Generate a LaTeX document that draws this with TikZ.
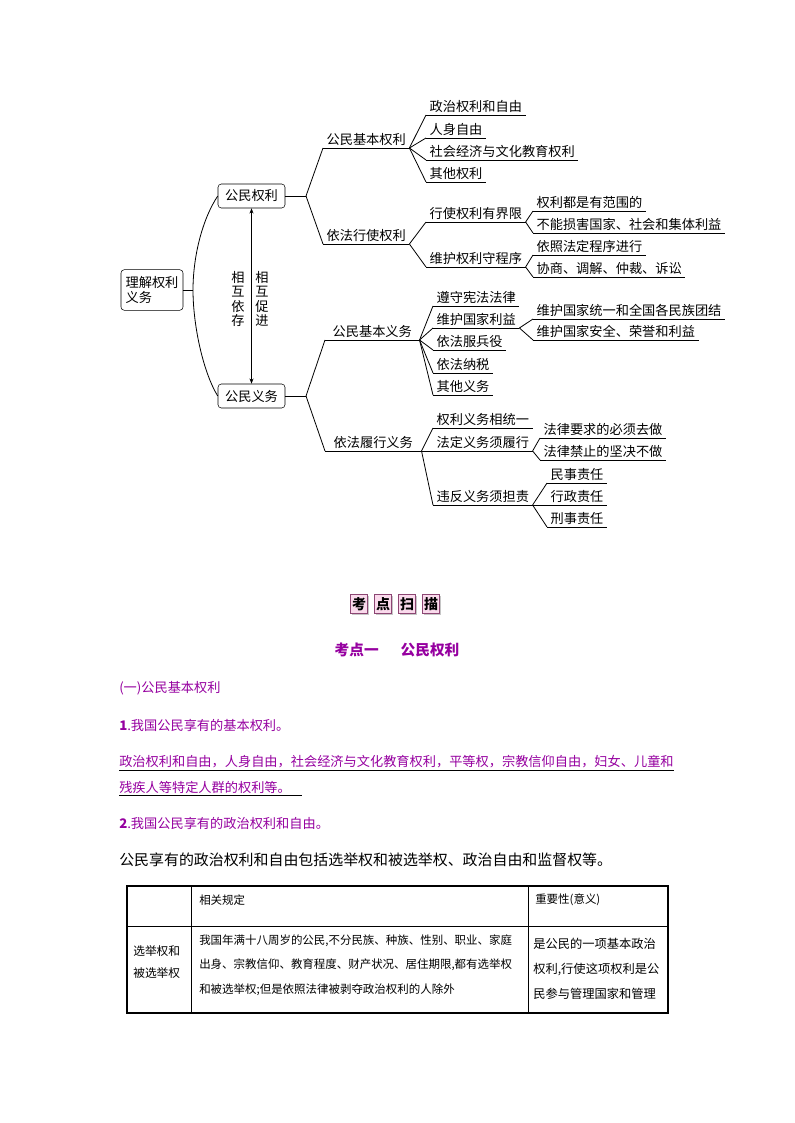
\documentclass[tikz,border=0pt]{standalone}
\usepackage{fontspec}
\setmainfont{Noto Sans CJK SC}
\usetikzlibrary{arrows.meta, positioning, shadows}

\definecolor{kdpurple}{RGB}{150,0,160}
\definecolor{kdpink}{RGB}{250,218,236}
\definecolor{kdedge}{RGB}{140,70,115}

\begin{document}
\begin{tikzpicture}[
    x=0.75pt, y=-0.75pt,
    box/.style={draw, rounded corners=2.5pt, inner sep=0pt, font=\fontsize{9.9}{11.2}\selectfont},
    item/.style={anchor=south west, inner xsep=2.5pt, inner ysep=1.6pt, font=\fontsize{9.9}{12}\selectfont},
    link/.style={line width=0.6pt},
    arrow/.style={{Stealth[length=4pt,width=3pt]}-{Stealth[length=4pt,width=3pt]}, line width=0.6pt},
    vlabel/.style={align=center, inner sep=0pt, font=\fontsize{9.9}{10.9}\selectfont},
    tag/.style={draw=kdedge, fill=kdpink, minimum width=12.5pt, minimum height=14pt, inner sep=0pt,
        drop shadow={shadow xshift=1pt, shadow yshift=-1pt, fill=gray!45, opacity=1},
        font=\fontsize{10.5}{11}\selectfont\bfseries},
    body/.style={anchor=west, inner xsep=0pt, inner ysep=1.6pt, text=kdpurple, font=\fontsize{9.9}{12}\selectfont},
    cell/.style={anchor=west, inner sep=0pt, align=left, font=\fontsize{8.6}{18.4}\selectfont}
]
\fill[white] (0,0) rectangle (794,1123);
\useasboundingbox (0,0) rectangle (794,1123);

% mind map: boxes
\node[box, align=left, minimum width=46.5pt, minimum height=30.5pt] (root) at (152,290) {理解权利\\义务};
\node[box, minimum width=50.25pt, minimum height=18pt] (qlbox) at (251.5,196) {公民权利};
\node[box, minimum width=50.25pt, minimum height=18pt] (ywbox) at (251.5,396) {公民义务};

\coordinate (arcmid) at (193,290);
\draw[link] (root.east) -- (arcmid);
\draw[link] (qlbox.west) .. controls (203,218) and (193,255) .. (arcmid)
    .. controls (193,325) and (203,372) .. (ywbox.west);

\draw[arrow] (qlbox.south) -- (ywbox.north);
\node[vlabel] (xhyc) at (238,299) {相\\互\\依\\存};
\node[vlabel] (xhcj) at (262,299) {相\\互\\促\\进};

% rights
\node[item] (jbql) at (323,148) {公民基本权利};
\node[item] (yfxs) at (323,244) {依法行使权利};
\coordinate (qlj) at (306,196);
\draw[link] (qlbox.east) -- (qlj);
\foreach \n in {jbql, yfxs} \draw[link] (qlj) -- (\n.south west);

\node[item] (zzql) at (426,115) {政治权利和自由};
\node[item] (rszy) at (426,138) {人身自由};
\node[item] (shjj) at (426,160) {社会经济与文化教育权利};
\node[item] (qtql) at (426,182) {其他权利};
\foreach \n in {zzql, rszy, shjj, qtql} \draw[link] (jbql.south east) -- (\n.south west);

\node[item] (xsjx) at (426,222) {行使权利有界限};
\node[item] (whcx) at (426,267) {维护权利守程序};
\foreach \n in {xsjx, whcx} \draw[link] (yfxs.south east) -- (\n.south west);

\node[item] (fwd) at (533,211) {权利都是有范围的};
\node[item] (bnsh) at (533,233) {不能损害国家、社会和集体利益};
\foreach \n in {fwd, bnsh} \draw[link] (xsjx.south east) -- (\n.south west);

\node[item] (yzcx) at (533,255) {依照法定程序进行};
\node[item] (xstz) at (533,277) {协商、调解、仲裁、诉讼};
\foreach \n in {yzcx, xstz} \draw[link] (whcx.south east) -- (\n.south west);

% duties
\node[item, minimum width=70.5pt] (jbyw) at (325,340) {公民基本义务};
\node[item, minimum width=72pt] (yfly) at (325,451) {依法履行义务};
\coordinate (ywj) at (306,396);
\draw[link] (ywbox.east) -- (ywj);
\foreach \n in {jbyw, yfly} \draw[link] (ywj) -- (\n.south west);

\node[item] (zsxf) at (433,306) {遵守宪法法律};
\node[item] (whgj) at (433,328) {维护国家利益};
\node[item] (fby) at (433,350) {依法服兵役};
\node[item] (ns) at (433,373) {依法纳税};
\node[item] (qtyw) at (433,395) {其他义务};
\foreach \n in {zsxf, whgj, fby, ns, qtyw} \draw[link] (jbyw.south east) -- (\n.south west);

\node[item] (tyjt) at (533,319) {维护国家统一和全国各民族团结};
\node[item] (aqry) at (533,340) {维护国家安全、荣誉和利益};
\foreach \n in {tyjt, aqry} \draw[link] (whgj.south east) -- (\n.south west);

\node[item] (qlyw) at (433,428) {权利义务相统一};
\node[item] (fdyw) at (433,451) {法定义务须履行};
\node[item] (wfzr) at (433,505) {违反义务须担责};
\foreach \n in {qlyw, fdyw, wfzr} \draw[link] (yfly.south east) -- (\n.south west);

\node[item] (bxqz) at (540,438) {法律要求的必须去做};
\node[item] (jjbz) at (540,460) {法律禁止的坚决不做};
\foreach \n in {bxqz, jjbz} \draw[link] (fdyw.south east) -- (\n.south west);

\node[item] (msz) at (547,483) {民事责任};
\node[item] (xzz) at (547,505) {行政责任};
\node[item] (xsz) at (547,527) {刑事责任};
\foreach \n in {msz, xzz, xsz} \draw[link] (wfzr.south east) -- (\n.south west);

\foreach \n in {jbql, yfxs, zzql, rszy, shjj, qtql, xsjx, whcx, fwd, bnsh, yzcx, xstz,
    jbyw, yfly, zsxf, whgj, fby, ns, qtyw, tyjt, aqry, qlyw, fdyw, wfzr, bxqz, jjbz, msz, xzz, xsz}
    \draw[link] (\n.south west) -- (\n.south east);

% scan tags and heading
\foreach \t [count=\i] in {考,点,扫,描}
    \node[tag] (tag\i) at (335+24*\i,604) {\t};
\node[text=kdpurple, font=\fontsize{11}{13}\selectfont\bfseries] (kd1) at (397,650) {考点一\hspace{1.5em}公民权利};

\node[body] (sub1) at (119,688) {(一)公民基本权利};
\node[body] (pt1) at (119,725) {\textbf{1}.我国公民享有的基本权利。};
\node[body] (ul1) at (119,762) {政治权利和自由，人身自由，社会经济与文化教育权利，平等权，宗教信仰自由，妇女、儿童和};
\node[body] (ul2) at (119,787) {残疾人等特定人群的权利等。\hspace*{0.8em}};
\foreach \n in {ul1, ul2} \draw[line width=0.6pt] (\n.south west) -- (\n.south east);
\node[body] (pt2) at (119,823) {\textbf{2}.我国公民享有的政治权利和自由。};
\node[anchor=west, inner sep=0pt, font=\fontsize{11.2}{13}\selectfont] (intro) at (119,860)
    {公民享有的政治权利和自由包括选举权和被选举权、政治自由和监督权等。};

% table
\draw[line width=1.6pt] (127,886) rectangle (668,1013);
\draw[line width=0.6pt] (191,886) -- (191,1013) (528,886) -- (528,1013) (127,926) -- (668,926);
\node[cell] (h1) at (199,900) {相关规定};
\node[cell] (h2) at (535,900) {重要性(意义)};
\node[cell, font=\fontsize{8.8}{16.5}\selectfont] (c1) at (133,962) {选举权和\\被选举权};
\node[cell] (c2) at (199,965) {我国年满十八周岁的公民,不分民族、种族、性别、职业、家庭\\出身、宗教信仰、教育程度、财产状况、居住期限,都有选举权\\和被选举权;但是依照法律被剥夺政治权利的人除外};
\node[cell, font=\fontsize{9.2}{18.8}\selectfont] (c3) at (533,969) {是公民的一项基本政治\\权利,行使这项权利是公\\民参与管理国家和管理};
\end{tikzpicture}
\end{document}
